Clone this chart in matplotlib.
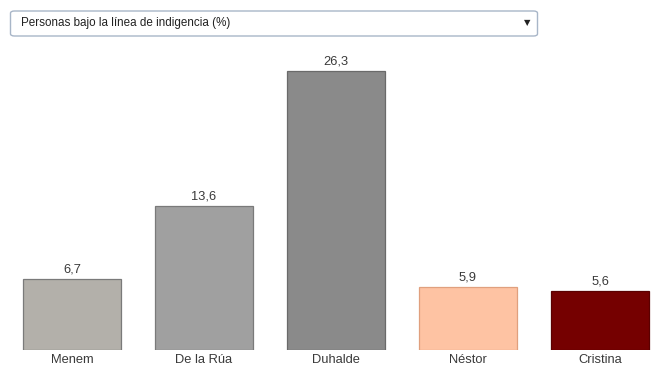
import numpy as np
import matplotlib
matplotlib.use("Agg")
import matplotlib.pyplot as plt
from matplotlib.patches import FancyBboxPatch

plt.rcParams['font.family'] = ['Liberation Sans', 'DejaVu Sans']

# data
presidentes = ['Menem', 'De la Rúa', 'Duhalde', 'Néstor', 'Cristina']
indigencia = [6.7, 13.6, 26.3, 5.9, 5.6]
colores = ['#b3b0aa', '#a0a0a0', '#8a8a8a', '#fec3a3', '#750000']
bordes = ['#7a7a7a', '#7a7a7a', '#6a6a6a', '#e0a07e', '#5a0000']
titulo = 'Personas bajo la línea de indigencia (%)'

W, H = 664, 377
fig = plt.figure(figsize=(W / 100, H / 100), dpi=100)

# axes placed in pixel terms: baseline at y=350, 10.61 px per unit
top_px, base_px = 50, 350
ax = fig.add_axes([0, (H - base_px) / H, 1, (base_px - top_px) / H])
ax.set_xlim(-72 / 132, (W - 72) / 132)
ax.set_ylim(0, (base_px - top_px) / 10.61)

x = np.arange(len(presidentes))
ax.bar(x, indigencia, width=98 / 132, color=colores, edgecolor=bordes, linewidth=0.9)
for xi, v in zip(x, indigencia):
    ax.annotate(f'{v:.1f}'.replace('.', ','), (xi, v), xytext=(0, 2.5),
                textcoords='offset points', ha='center', va='bottom',
                fontsize=9.3, color='#3a3a3a')
ax.set_xticks(x)
ax.set_xticklabels(presidentes, fontsize=9.3, color='#3a3a3a')
ax.tick_params(axis='x', length=0, pad=3)
ax.set_yticks([])
for s in ax.spines.values():
    s.set_visible(False)
ax.patch.set_alpha(0)

# dropdown box on top
box = FancyBboxPatch((10.5 / W, (H - 36) / H), 527 / W, 25 / H,
                     boxstyle='round,pad=0,rounding_size=0.006',
                     transform=fig.transFigure, facecolor='white',
                     edgecolor='#a8b6c8', linewidth=1)
fig.patches.append(box)
fig.text(21 / W, (H - 23) / H, titulo, fontsize=8.4, color='#222222', va='center')
fig.text(527 / W, (H - 23) / H, '▼', fontsize=6, color='#222222', va='center',
         ha='center', family='DejaVu Sans')

fig.savefig('out.png', dpi=100)
